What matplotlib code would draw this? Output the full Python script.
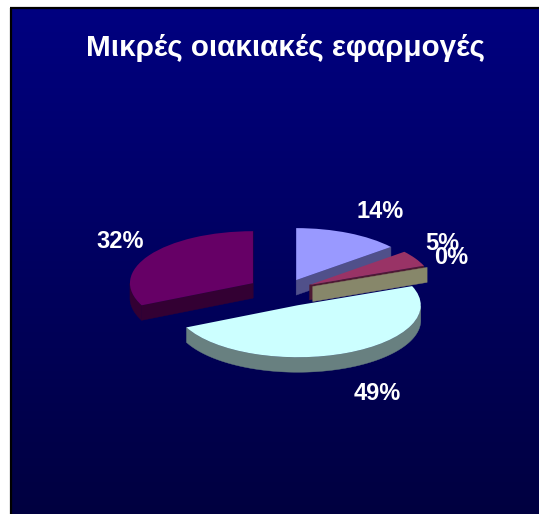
import numpy as np
import matplotlib
matplotlib.use("Agg")
import matplotlib.pyplot as plt
from matplotlib.patches import Polygon
from matplotlib.transforms import Affine2D

W, H = 539, 514

# Share of each application group, clockwise from twelve o'clock
labels = ["14%", "5%", "0%", "49%", "32%"]
values = [14, 5, 0, 49, 32]
title = "Μικρές οιακιακές εφαρμογές"

top_colors = ["#9999FF", "#993366", "#FFFFCC", "#CCFFFF", "#660066"]
side_colors = ["#50508A", "#4D1A33", "#87876A", "#688080", "#330033"]
explode_fraction = [0.24, 0.245, 0.255, 0.29, 0.295]
stacking = [2, 3, 6, 4, 7]    # back-to-front drawing order of the slices

CX, CY = 283.6, H - 291.4     # pie centre
RADIUS = 123.0
SQUASH = 52.0 / 123.0         # vertical foreshortening of the tilted disc
DEPTH = 15.0                  # thickness of the extruded disc

plt.rcParams["font.family"] = ["Liberation Sans", "DejaVu Sans"]
fig = plt.figure(figsize=(W / 100, H / 100), dpi=100, facecolor="white")
ax = fig.add_axes([0, 0, 1, 1])

# Slices first, so that their angles and offsets drive the solid below.
# Matplotlib applies explode as an absolute distance, hence the radius factor.
wedges, _ = ax.pie(values, explode=[e * RADIUS for e in explode_fraction],
                   startangle=90, counterclock=False,
                   radius=RADIUS, center=(CX, CY), colors=top_colors,
                   wedgeprops={"linewidth": 0})

tilt = Affine2D().translate(0, -CY).scale(1, SQUASH).translate(0, CY) + ax.transData


def screen(x, y):
    """Position of a pie point on the tilted disc, in axes data units."""
    return np.asarray(x), CY + (np.asarray(y) - CY) * SQUASH


def rim(wedge, angles):
    t = np.radians(angles)
    x0, y0 = wedge.center
    return screen(x0 + RADIUS * np.cos(t), y0 + RADIUS * np.sin(t))


def add_side(points, color, z):
    ax.add_patch(Polygon(points, closed=True, facecolor=color, edgecolor=color,
                         linewidth=0.3, zorder=z))


def add_cut_face(wedge, angle, color, z):
    x0, y0 = screen(*wedge.center)
    x1, y1 = rim(wedge, angle)
    add_side([(x0, y0), (x1, y1), (x1, y1 - DEPTH), (x0, y0 - DEPTH)], color, z)


for value, w, side, z in zip(values, wedges, side_colors, stacking):
    w.set_transform(tilt)
    w.set_zorder(z + 0.5)
    t1, t2 = w.theta1, w.theta2

    # Radial cut faces, only where they turn towards the viewer
    if np.cos(np.radians(t1)) > 0:
        add_cut_face(w, t1, side, z)
    if value > 0 and np.cos(np.radians(t2)) < 0:
        add_cut_face(w, t2, side, z)

    # Outer wall: the part of the rim on the near half of the disc
    if value > 0:
        span = np.linspace(t1, t2, 240)
        near = span[np.sin(np.radians(span)) < 0]
        if near.size:
            sx, sy = rim(w, near)
            add_side(list(zip(sx, sy)) + list(zip(sx[::-1], sy[::-1] - DEPTH)), side, z)

# Vertical gradient panel with a dark border on the top and left
grad = np.linspace(0, 1, 256).reshape(-1, 1)
shade_top = np.array([0, 0, 128]) / 255
shade_bottom = np.array([0, 0, 64]) / 255
panel = shade_top + (shade_bottom - shade_top) * grad[..., None]
ax.imshow(panel, extent=(11, W, 0, H - 8), origin="upper", aspect="auto", zorder=0)
ax.plot([11, 11], [0, H - 8], color="#000000", lw=1.6, zorder=1, solid_capstyle="butt")
ax.plot([10, W], [H - 8, H - 8], color="#000000", lw=1.6, zorder=1, solid_capstyle="butt")

ax.set_aspect("auto")
ax.set_xlim(0, W)
ax.set_ylim(0, H)
ax.axis("off")

ax.text(285, H - 48, title, color="white", fontsize=21.3, fontweight="bold",
        ha="center", va="center", zorder=10)

label_xy = [(380, 211), (442, 243), (451, 257), (377, 394), (120, 242)]
for text, (x, y) in zip(labels, label_xy):
    ax.text(x, H - y, text, color="white", fontsize=17, fontweight="bold",
            ha="center", va="center", zorder=10)

fig.savefig("out.png", dpi=100, facecolor="white")
